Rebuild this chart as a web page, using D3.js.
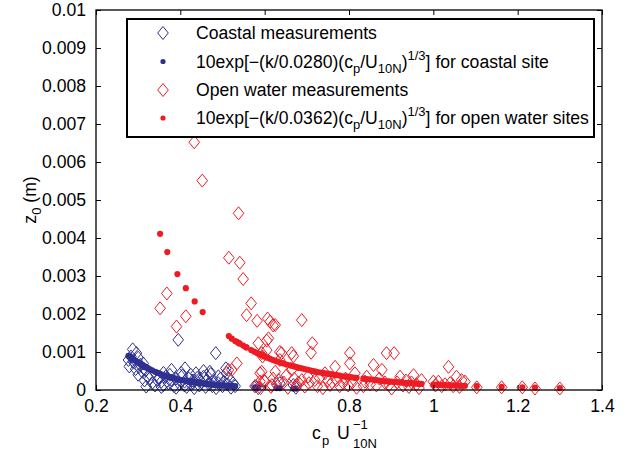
<!DOCTYPE html>
<html><head><meta charset="utf-8">
<script src="https://cdn.jsdelivr.net/npm/d3@7"></script>
<style>body{margin:0;background:#fff}svg{display:block}text{font-family:"Liberation Sans",Arial,sans-serif}</style>
</head><body><svg id="c" width="635" height="452"></svg>
<script>
// ---------------- data ----------------
const xTicks = [0.2,0.4,0.6,0.8,1,1.2,1.4];
const xTickLabels = ["0.2","0.4","0.6","0.8","1","1.2","1.4"];
const yTicks = [0,0.001,0.002,0.003,0.004,0.005,0.006,0.007,0.008,0.009,0.01];
const yTickLabels = ["0","0.001","0.002","0.003","0.004","0.005","0.006","0.007","0.008","0.009","0.01"];
const seriesNames = ["Coastal measurements","coastal fit","Open water measurements","open water fit"];

const coastalMeas = [
[0.287,0.00107],[0.296,0.00097],[0.277,0.00079],[0.283,0.00088],[0.291,0.00072],[0.300,0.00085],[0.305,0.00066],[0.279,0.00062],[0.294,0.00055],[0.310,0.00048],
[0.300,0.00040],[0.318,0.00052],[0.322,0.00035],[0.315,0.00025],[0.327,0.00030],[0.319,0.00009],[0.333,0.00018],[0.288,0.00075],[0.302,0.00060],[0.312,0.00070],
[0.395,0.00132],[0.484,0.00097],[0.379,0.00053],[0.411,0.00057],[0.437,0.00044],[0.360,0.00013],[0.350,0.00030],[0.355,0.00022],[0.365,0.00035],[0.372,0.00018],
[0.380,0.00025],[0.385,0.00010],[0.390,0.00030],[0.398,0.00016],[0.405,0.00038],[0.410,0.00022],[0.415,0.00008],[0.420,0.00030],[0.425,0.00015],[0.430,0.00025],
[0.433,0.00005],[0.440,0.00032],[0.445,0.00012],[0.450,0.00020],[0.455,0.00035],[0.460,0.00008],[0.463,0.00026],[0.468,0.00015],[0.472,0.00042],[0.476,0.00010],
[0.480,0.00022],[0.485,0.00005],[0.490,0.00018],[0.495,0.00030],[0.500,0.00010],[0.503,0.00022],[0.508,0.00057],[0.512,0.00015],[0.516,0.00030],[0.520,0.00006],
[0.525,0.00018],[0.530,0.00010],[0.470,0.00048],[0.455,0.00050],[0.402,0.00045],[0.425,0.00040],[0.375,0.00040],[0.360,0.00045],[0.345,0.00026],[0.340,0.00012],
[0.445,0.00028],[0.462,0.00038],[0.410,0.00012],[0.390,0.00006],[0.355,0.00008],[0.430,0.00018],[0.490,0.00036],[0.510,0.00045],
[0.577,0.00010],[0.585,0.00005],[0.628,0.00015],[0.636,0.00018],[0.668,0.00013],[0.674,0.00006]
];
const coastalFit = [
[0.277,0.00090],[0.279,0.00088],[0.283,0.00085],[0.287,0.00082],[0.288,0.00081],[0.291,0.00079],[0.294,0.00077],[0.296,0.00075],[0.300,0.00072],[0.302,0.00071],
[0.305,0.00069],[0.310,0.00066],[0.312,0.00064],[0.315,0.00062],[0.318,0.00060],[0.319,0.00060],[0.322,0.00058],[0.327,0.00055],[0.333,0.00052],[0.340,0.00048],
[0.345,0.00046],[0.350,0.00044],[0.355,0.00041],[0.360,0.00039],[0.365,0.00037],[0.372,0.00035],[0.375,0.00034],[0.379,0.00033],[0.385,0.00031],[0.390,0.00029],
[0.395,0.00028],[0.398,0.00027],[0.402,0.00026],[0.405,0.00026],[0.410,0.00025],[0.415,0.00024],[0.420,0.00023],[0.425,0.00022],[0.430,0.00021],[0.433,0.00020],
[0.437,0.00020],[0.440,0.00019],[0.445,0.00018],[0.450,0.00018],[0.455,0.00017],[0.460,0.00016],[0.463,0.00016],[0.468,0.00015],[0.472,0.00015],[0.476,0.00014],
[0.480,0.00014],[0.484,0.00013],[0.490,0.00013],[0.495,0.00012],[0.500,0.00012],[0.503,0.00012],[0.508,0.00011],[0.512,0.00011],[0.516,0.00011],[0.520,0.00010],
[0.525,0.00010],[0.530,0.00010],[0.577,0.00007],[0.585,0.00007],[0.628,0.00005],[0.636,0.00005],[0.668,0.00004],[0.674,0.00004]
];
const openMeas = [
[0.433,0.00652],[0.452,0.00551],[0.538,0.00465],[0.515,0.00348],[0.541,0.00335],[0.549,0.00292],[0.368,0.00254],[0.352,0.00215],[0.413,0.00194],[0.391,0.00167],
[0.568,0.00228],[0.557,0.00197],[0.582,0.00182],[0.607,0.00188],[0.613,0.00180],[0.625,0.00171],[0.688,0.00184],[0.609,0.00136],[0.585,0.00123],[0.593,0.00097],
[0.605,0.00105],[0.534,0.00070],[0.522,0.00053],[0.514,0.00053],[0.713,0.00123],[0.710,0.00098],[0.640,0.00097],[0.664,0.00097],[0.636,0.00079],[0.593,0.00048],
[0.598,0.00026],[0.625,0.00048],[0.633,0.00026],[0.652,0.00039],[0.664,0.00053],[0.688,0.00026],[0.676,0.00013],[0.703,0.00035],[0.719,0.00026],[0.743,0.00044],
[0.755,0.00013],[0.802,0.00097],[0.802,0.00070],[0.889,0.00097],[0.907,0.00097],[0.858,0.00066],[0.878,0.00053],[0.842,0.00035],[0.767,0.00061],[0.814,0.00044],
[0.786,0.00018],[0.771,0.00026],[0.921,0.00035],[0.953,0.00039],[0.972,0.00026],[1.000,0.00022],[0.901,0.00004],[0.966,0.00005],[0.838,0.00022],[0.850,0.00015],
[1.036,0.00061],[1.055,0.00035],[1.067,0.00026],[1.075,0.00022],[1.012,0.00022],[1.040,0.00018],[1.020,0.00010],[1.062,0.00008],[1.103,0.00007],[1.162,0.00007],
[1.211,0.00007],[1.241,0.00004],[1.300,0.00004],[0.605,0.00130],[0.620,0.00170],[0.668,0.00089],[0.636,0.00100],[0.595,0.00088],[0.589,0.00044],[0.600,0.00022],
[0.617,0.00013],[0.589,0.00022],[0.580,0.00010],[0.590,0.00005],[0.615,0.00008],[0.620,0.00030],[0.645,0.00020],[0.655,0.00006],[0.670,0.00030],[0.680,0.00020],
[0.695,0.00009],[0.705,0.00018],[0.725,0.00010],[0.730,0.00032],[0.738,0.00005],[0.750,0.00025],[0.760,0.00020],[0.778,0.00010],[0.792,0.00030],[0.798,0.00012],
[0.808,0.00020],[0.818,0.00006],[0.834,0.00010],[0.865,0.00012],[0.872,0.00030],[0.885,0.00020],[0.895,0.00013],[0.914,0.00020],[0.928,0.00012],[0.935,0.00025],
[0.942,0.00008],[0.948,0.00020],[0.960,0.00015],[1.005,0.00012],[1.028,0.00015],[1.047,0.00010]
];
const openFit = [
[0.352,0.00411],[0.369,0.00363],[0.393,0.00305],[0.413,0.00268],[0.434,0.00233],[0.453,0.00205],[0.515,0.00142],
[0.522,0.00135],[0.530,0.00129],[0.534,0.00127],[0.538,0.00124],[0.541,0.00122],[0.549,0.00117],[0.555,0.00113],[0.557,0.00112],[0.568,0.00105],[0.575,0.00101],
[0.581,0.00098],[0.585,0.00096],[0.590,0.00093],[0.593,0.00092],[0.600,0.00088],[0.605,0.00086],[0.607,0.00085],[0.613,0.00082],[0.620,0.00079],[0.625,0.00077],
[0.630,0.00075],[0.636,0.00073],[0.640,0.00071],[0.645,0.00070],[0.652,0.00067],[0.660,0.00065],[0.664,0.00064],[0.670,0.00062],[0.676,0.00060],[0.682,0.00058],
[0.688,0.00057],[0.695,0.00055],[0.703,0.00053],[0.710,0.00051],[0.713,0.00050],[0.719,0.00049],[0.725,0.00047],[0.732,0.00046],[0.738,0.00045],[0.743,0.00044],
[0.750,0.00043],[0.755,0.00042],[0.760,0.00041],[0.767,0.00040],[0.771,0.00039],[0.778,0.00038],[0.786,0.00036],[0.792,0.00035],[0.798,0.00035],[0.802,0.00034],
[0.808,0.00033],[0.814,0.00032],[0.818,0.00032],
[0.834,0.00030],[0.838,0.00029],[0.842,0.00029],[0.850,0.00028],[0.858,0.00027],[0.865,0.00026],[0.872,0.00025],[0.878,0.00024],[0.885,0.00023],[0.889,0.00023],
[0.895,0.00022],[0.901,0.00022],[0.907,0.00021],[0.914,0.00021],[0.921,0.00020],[0.928,0.00019],[0.935,0.00019],[0.942,0.00018],[0.948,0.00018],[0.953,0.00017],
[0.960,0.00017],[0.966,0.00016],[0.972,0.00016],
[1.000,0.00014],[1.005,0.00014],[1.012,0.00014],[1.020,0.00013],[1.028,0.00013],[1.036,0.00013],[1.040,0.00012],[1.047,0.00012],[1.055,0.00012],[1.062,0.00011],
[1.067,0.00011],[1.075,0.00011],[1.103,0.00010],[1.162,0.00008],[1.211,0.00007],[1.241,0.00006],[1.300,0.00005]
];

// ---------------- drawing ----------------
const BLUE = "#2e3192", RED = "#ed1c24";
const svg = d3.select("#c");
const L = 96, R = 602, T = 10, B = 390;
const x = d3.scaleLinear().domain([0.2,1.4]).range([L,R]);
const y = d3.scaleLinear().domain([0,0.01]).range([B,T]);
const FS = 17.6, SS = 13;
const diamond = (w,h) => `M0,${-h}L${w},0L0,${h}L${-w},0Z`;

const plot = svg.append("g");
plot.append("g").selectAll("path").data(coastalMeas).join("path")
  .attr("d", diamond(5.3,6.5)).attr("transform", d => `translate(${x(d[0])},${y(d[1])})`)
  .attr("fill","none").attr("stroke",BLUE).attr("stroke-width",1);
plot.append("g").selectAll("circle").data(coastalFit).join("circle")
  .attr("cx", d => x(d[0])).attr("cy", d => y(d[1])).attr("r",3.1).attr("fill",BLUE);
plot.append("g").selectAll("path").data(openMeas).join("path")
  .attr("d", diamond(5.3,6.5)).attr("transform", d => `translate(${x(d[0])},${y(d[1])})`)
  .attr("fill","none").attr("stroke",RED).attr("stroke-width",1);
plot.append("g").selectAll("circle").data(openFit).join("circle")
  .attr("cx", d => x(d[0])).attr("cy", d => y(d[1])).attr("r",3.1).attr("fill",RED);

// axes
const tl = 5;
const ax = svg.append("g");
ax.append("g").attr("transform",`translate(0,${B})`)
  .call(d3.axisBottom(x).tickValues(xTicks).tickSizeInner(-tl).tickSizeOuter(0).tickPadding(10).tickFormat((d,i)=>xTickLabels[i]));
ax.append("g").attr("transform",`translate(0,${T})`)
  .call(d3.axisTop(x).tickValues(xTicks).tickSizeInner(-tl).tickSizeOuter(0).tickFormat(""));
ax.append("g").attr("transform",`translate(${L},0)`)
  .call(d3.axisLeft(y).tickValues(yTicks).tickSizeInner(-tl).tickSizeOuter(0).tickPadding(10).tickFormat((d,i)=>yTickLabels[i]));
ax.append("g").attr("transform",`translate(${R},0)`)
  .call(d3.axisRight(y).tickValues(yTicks).tickSizeInner(-tl).tickSizeOuter(0).tickFormat(""));
ax.selectAll(".domain").remove();
ax.selectAll("line").attr("stroke","#000").attr("stroke-width",1);
ax.selectAll("text").attr("font-size",FS).attr("fill","#000").attr("font-family","Liberation Sans, Arial, sans-serif");
svg.append("rect").attr("x",L).attr("y",T).attr("width",R-L).attr("height",B-T)
  .attr("fill","none").attr("stroke","#000").attr("stroke-width",1.3);

// legend
const lg = svg.append("g");
lg.append("rect").attr("x",127).attr("y",19).attr("width",467).attr("height",118)
  .attr("fill","#fff").attr("stroke","#000").attr("stroke-width",2);
const rows = [33,61.5,90,118];
lg.append("path").attr("d",diamond(5.3,6.5)).attr("transform",`translate(163,${rows[0]})`).attr("fill","none").attr("stroke",BLUE);
lg.append("circle").attr("cx",163).attr("cy",rows[1]).attr("r",2.6).attr("fill",BLUE);
lg.append("path").attr("d",diamond(5.3,6.5)).attr("transform",`translate(163,${rows[2]})`).attr("fill","none").attr("stroke",RED);
lg.append("circle").attr("cx",163).attr("cy",rows[3]).attr("r",2.6).attr("fill",RED);
function fitLabel(t, cy, k, tail){
  const e = t.append("text").attr("x",196).attr("y",cy+6).attr("font-size",FS);
  e.append("tspan").text(`10exp[\u2212(k/${k})(c`);
  e.append("tspan").attr("dy",5).attr("font-size",SS).text("p");
  e.append("tspan").attr("dy",-5).text("/U");
  e.append("tspan").attr("dy",5).attr("font-size",SS).text("10N");
  e.append("tspan").attr("dy",-5).text(")");
  e.append("tspan").attr("dy",-8).attr("font-size",SS).text("1/3");
  e.append("tspan").attr("dy",8).text(tail);
}
lg.append("text").attr("x",196).attr("y",rows[0]+6).attr("font-size",FS).text(seriesNames[0]);
fitLabel(lg, rows[1], "0.0280", "] for coastal site");
lg.append("text").attr("x",196).attr("y",rows[2]+6).attr("font-size",FS).text(seriesNames[2]);
fitLabel(lg, rows[3], "0.0362", "] for open water sites");

// axis labels
const xl = svg.append("g");
xl.append("text").attr("x",312).attr("y",439).attr("font-size",FS).text("c");
xl.append("text").attr("x",322).attr("y",445).attr("font-size",SS).text("p");
xl.append("text").attr("x",337).attr("y",439).attr("font-size",FS).text("U");
xl.append("text").attr("x",353).attr("y",429).attr("font-size",SS).text("\u22121");
xl.append("text").attr("x",353).attr("y",448).attr("font-size",SS).text("10N");

const yl = svg.append("text").attr("transform","translate(36,200) rotate(-90)").attr("text-anchor","middle").attr("font-size",FS);
yl.append("tspan").text("z");
yl.append("tspan").attr("dy",5).attr("font-size",SS).text("0");
yl.append("tspan").attr("dy",-5).text(" (m)");
</script></body></html>
